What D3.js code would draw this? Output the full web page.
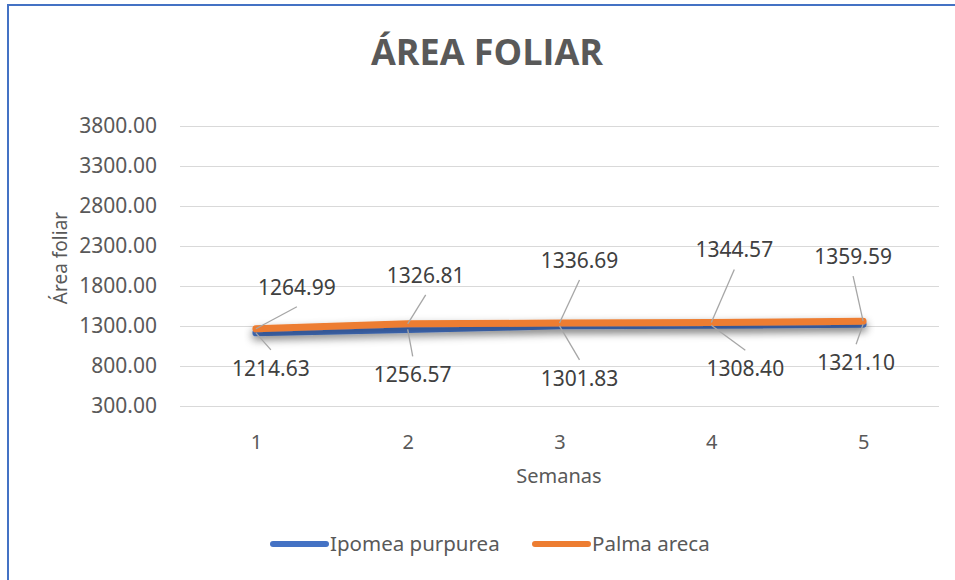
<!DOCTYPE html>
<body style="margin:0">
<svg width="955" height="580" font-family="'Noto Sans', sans-serif"></svg>
</body>
<script src="https://d3js.org/d3.v7.min.js"></script>
<script>

var semanas = [1, 2, 3, 4, 5];
var ipomea = [1214.63, 1256.57, 1301.83, 1308.40, 1321.10];
var palma = [1264.99, 1326.81, 1336.69, 1344.57, 1359.59];
var yTicks = [300, 800, 1300, 1800, 2300, 2800, 3300, 3800];

// where each data label sits relative to its point (layout only)
var palmaOffsets = [[41, -41], [18, -48], [20, -62], [23, -72], [-10, -64]];
var ipomeaOffsets = [[15, 36], [5, 46], [20, 53], [34, 44], [-7, 39]];

var svg = d3.select("svg"),
    width = +svg.attr("width"),
    height = +svg.attr("height");

var grey = "#595959";

svg.append("rect")
    .attr("x", 0).attr("y", 0).attr("width", width).attr("height", height)
    .attr("fill", "#fff");

// chart border (clipped at right and bottom)
svg.append("path")
    .attr("d", "M8," + height + "V5H" + width)
    .attr("fill", "none")
    .attr("stroke", "#4472C4")
    .attr("stroke-width", 2);

var defs = svg.append("defs");
defs.append("filter")
    .attr("id", "shadow")
    .attr("x", "-10%").attr("y", "-300%").attr("width", "120%").attr("height", "700%")
  .append("feDropShadow")
    .attr("dx", 0).attr("dy", 4)
    .attr("stdDeviation", 4)
    .attr("flood-color", "#000")
    .attr("flood-opacity", 0.4);

var x = d3.scalePoint()
    .domain(semanas)
    .range([180, 939])
    .padding(0.5);

var y = d3.scaleLinear()
    .domain([300, 3800])
    .range([406, 126]);

svg.append("text")
    .attr("x", 487).attr("y", 65)
    .attr("text-anchor", "middle")
    .attr("font-family", "'Open Sans', sans-serif")
    .attr("font-weight", "bold")
    .attr("font-size", 36)
    .attr("fill", grey)
    .text("ÁREA FOLIAR");

var yAxis = svg.append("g")
    .attr("transform", "translate(180,0)")
    .call(d3.axisLeft(y).tickValues(yTicks).tickFormat(d3.format(".2f")).tickSize(-759).tickPadding(23));
yAxis.select(".domain").remove();
yAxis.selectAll(".tick line").attr("stroke", "#d9d9d9");
yAxis.selectAll(".tick text").attr("fill", grey).attr("font-size", 21).attr("font-family", "'Noto Sans', sans-serif");

var xAxis = svg.append("g")
    .attr("transform", "translate(0,406)")
    .call(d3.axisBottom(x).tickSize(0).tickPadding(29));
xAxis.select(".domain").remove();
xAxis.selectAll(".tick text").attr("fill", grey).attr("font-size", 20).attr("font-family", "'Noto Sans', sans-serif");

svg.append("text")
    .attr("x", 559).attr("y", 483)
    .attr("text-anchor", "middle")
    .attr("font-size", 20)
    .attr("fill", grey)
    .text("Semanas");

svg.append("text")
    .attr("transform", "translate(67,258) rotate(-90)")
    .attr("text-anchor", "middle")
    .attr("font-size", 19)
    .attr("fill", grey)
    .text("Área foliar");

var series = [
  {name: "Ipomea purpurea", values: ipomea, color: "#4472C4", offsets: ipomeaOffsets},
  {name: "Palma areca", values: palma, color: "#ED7D31", offsets: palmaOffsets}
];

var line = d3.line()
    .x(function(d, i) { return x(semanas[i]); })
    .y(function(d) { return y(d); });

series.forEach(function(s) {
  svg.append("path")
      .attr("d", line(s.values))
      .attr("fill", "none")
      .attr("stroke", s.color)
      .attr("stroke-width", 7)
      .attr("stroke-linecap", "round")
      .attr("stroke-linejoin", "round")
      .attr("filter", "url(#shadow)");
});

// data labels with leader lines
series.forEach(function(s) {
  s.values.forEach(function(v, i) {
    var px = x(semanas[i]), py = y(v);
    var lx = px + s.offsets[i][0], ly = py + s.offsets[i][1];
    var above = s.offsets[i][1] < 0;
    svg.append("line")
        .attr("x1", px).attr("y1", py)
        .attr("x2", lx).attr("y2", above ? ly + 19 : ly - 19)
        .attr("stroke", "#a6a6a6")
        .attr("stroke-width", 1.3);
    svg.append("text")
        .attr("x", lx).attr("y", ly + 7)
        .attr("text-anchor", "middle")
        .attr("font-size", 21)
        .attr("fill", "#404040")
        .text(d3.format(".2f")(v));
  });
});

var legend = svg.append("g");
var legendItems = [
  {x: 271, s: series[0]},
  {x: 533, s: series[1]}
];
legendItems.forEach(function(it) {
  legend.append("line")
      .attr("x1", it.x + 2).attr("x2", it.x + 55)
      .attr("y1", 544).attr("y2", 544)
      .attr("stroke", it.s.color)
      .attr("stroke-width", 6)
      .attr("stroke-linecap", "round");
  legend.append("text")
      .attr("x", it.x + 59).attr("y", 551)
      .attr("font-size", 20.5)
      .attr("fill", grey)
      .text(it.s.name);
});

</script>
